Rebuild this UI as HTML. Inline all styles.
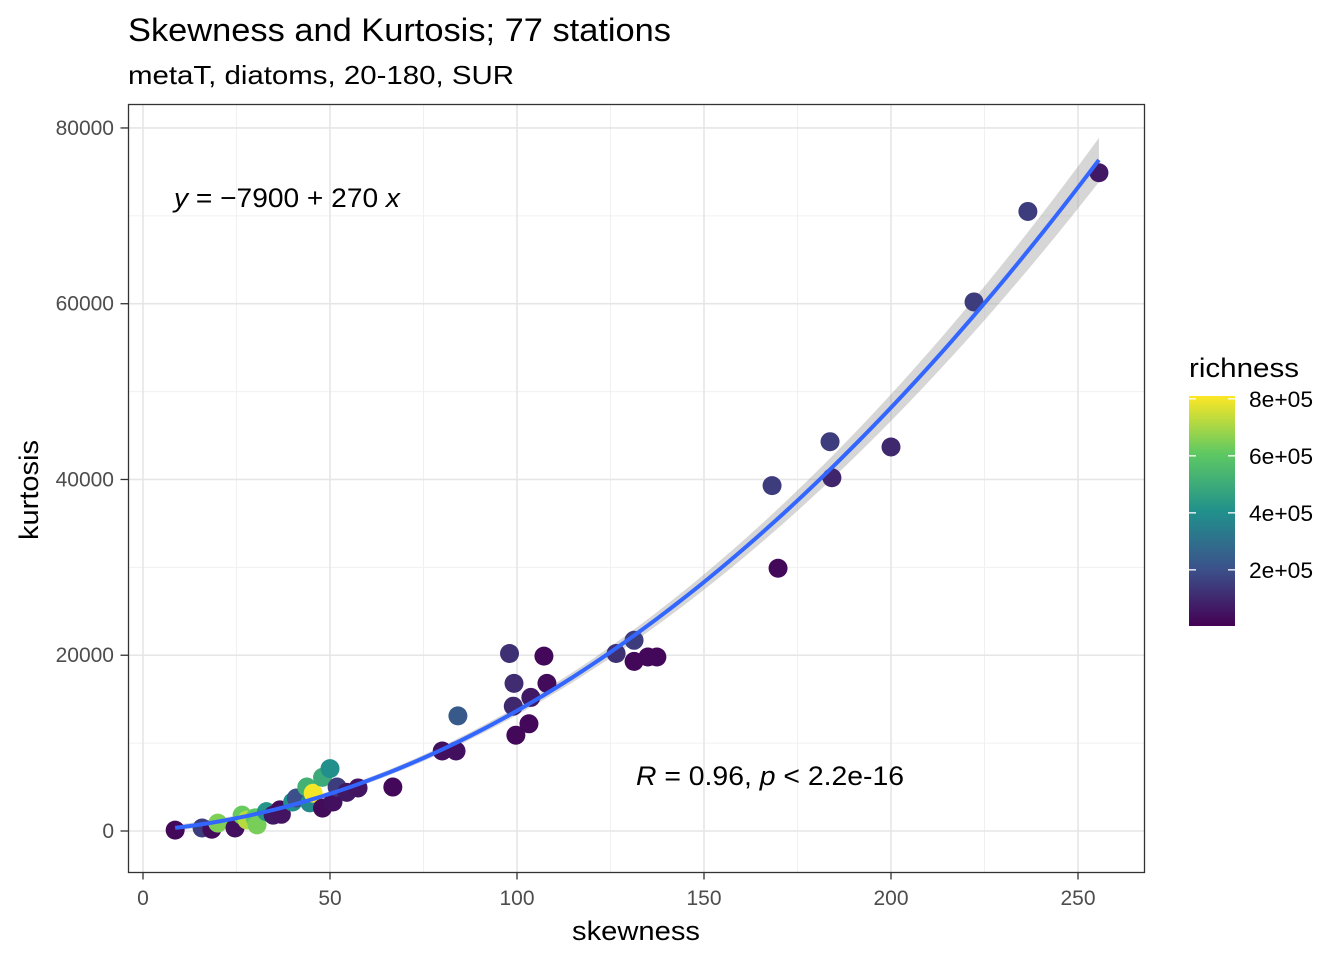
<!DOCTYPE html>
<html><head><meta charset="utf-8"><style>
body{margin:0;background:#fff;font-family:"Liberation Sans",Arial,sans-serif}
svg text{font-family:"Liberation Sans",Arial,sans-serif}
</style></head><body>
<svg id="c" width="1344" height="960" xmlns="http://www.w3.org/2000/svg">
<defs><linearGradient id="vg" x1="0" y1="1" x2="0" y2="0">
<stop offset="0" stop-color="#440154"/><stop offset="0.25" stop-color="#3b528b"/><stop offset="0.5" stop-color="#21918c"/><stop offset="0.75" stop-color="#5ec962"/><stop offset="1" stop-color="#fde725"/></linearGradient></defs>
<text x="128" y="41" font-size="32" textLength="543" lengthAdjust="spacingAndGlyphs">Skewness and Kurtosis; 77 stations</text>
<text x="128" y="84" font-size="26" textLength="386" lengthAdjust="spacingAndGlyphs">metaT, diatoms, 20-180, SUR</text>
<g id="grid"></g>
<g id="band"></g>
<g id="pts"></g>
<g id="fit"></g>
<rect x="128.5" y="104.5" width="1016" height="768" fill="none" stroke="#333" stroke-width="1.3"/>
<g id="axes"></g>
<text x="174" y="207" font-size="27" textLength="226" lengthAdjust="spacingAndGlyphs"><tspan font-style="italic">y</tspan> = −7900 + 270 <tspan font-style="italic">x</tspan></text>
<text x="636" y="785" font-size="27" textLength="268" lengthAdjust="spacingAndGlyphs"><tspan font-style="italic">R</tspan> = 0.96, <tspan font-style="italic">p</tspan> &lt; 2.2e-16</text>
<text x="572" y="940" font-size="27" textLength="128" lengthAdjust="spacingAndGlyphs">skewness</text>
<text transform="translate(38,540) rotate(-90)" font-size="27" textLength="100" lengthAdjust="spacingAndGlyphs">kurtosis</text>
<text x="1189" y="377" font-size="27" textLength="110" lengthAdjust="spacingAndGlyphs">richness</text>
<rect x="1189" y="396" width="46" height="230" fill="url(#vg)"/>
<g id="leg"></g>
</svg>
<script>
const skew=[8.6,15.8,18.4,20,24.6,26.5,27.8,30,30.5,33,34.8,36.6,37,40,41,43.8,44.6,45.5,48,48,50,50.8,51.9,54.5,57.5,66.8,80,83.7,84.2,98,99.2,99,99.7,103.2,103.7,107.2,108,126.5,131.3,131.3,135,137.4,168.2,169.8,183.7,184.2,200,222.2,236.6,255.6];
const kurt=[100,340,200,900,340,1800,1250,1500,700,2200,1800,2400,1900,3300,3750,5000,3200,4300,6100,2600,7100,3300,5000,4400,4900,5000,9100,9100,13100,20200,16800,14200,10900,12200,15200,19900,16800,20200,21700,19300,19800,19800,39300,29900,44300,40200,43700,60200,70500,74900];
const rich=[20000,150000,30000,650000,40000,620000,720000,600000,640000,420000,60000,30000,50000,400000,200000,520000,380000,800000,500000,30000,400000,40000,150000,60000,50000,20000,40000,40000,230000,120000,110000,100000,20000,20000,60000,20000,30000,120000,150000,20000,20000,20000,150000,20000,150000,90000,100000,150000,150000,60000];
const xTicks=[0,50,100,150,200,250], yTicks=[0,20000,40000,60000,80000], legTicks=[200000,400000,600000,800000];
const xs=v=>143+v*3.74, ys=v=>831-v*0.008788, ls=v=>626-(v-3000)*(230/807000);
const PL=128.5,PR=1144.5,PT=104.5,PB=872.5;
const NS="http://www.w3.org/2000/svg";
function mk(p,t,a){const e=document.createElementNS(NS,t);for(const k in a)e.setAttribute(k,a[k]);document.getElementById(p).appendChild(e);return e;}
const stops=[[68,1,84],[59,82,139],[33,145,140],[94,201,98],[253,231,37]];
function vir(v){let t=Math.max(0,Math.min(1,(v-3000)/807000))*4;let i=Math.min(3,Math.floor(t)),f=t-i;const a=stops[i],b=stops[i+1];return `rgb(${a.map((c,k)=>Math.round(c+(b[k]-c)*f)).join(',')})`;}
[25,75,125,175,225].forEach(v=>{const g=mk('grid','line',{x1:xs(v),x2:xs(v),y1:PT,y2:PB,stroke:'#f0f0f0','stroke-width':1});});
[10000,30000,50000,70000].forEach(v=>{const g=mk('grid','line',{x1:PL,x2:PR,y1:ys(v),y2:ys(v),stroke:'#f0f0f0','stroke-width':1});});
xTicks.forEach(v=>{const g=mk('grid','line',{x1:xs(v),x2:xs(v),y1:PT,y2:PB,stroke:'#e6e6e6','stroke-width':1.6});
const t=mk('axes','line',{x1:xs(v),x2:xs(v),y1:PB,y2:PB+7,stroke:'#333','stroke-width':1.3});
const l=mk('axes','text',{x:xs(v),y:905,'font-size':21,fill:'#4d4d4d','text-anchor':'middle'});l.textContent=v;});
yTicks.forEach(v=>{const g=mk('grid','line',{x1:PL,x2:PR,y1:ys(v),y2:ys(v),stroke:'#e6e6e6','stroke-width':1.6});
const t=mk('axes','line',{x1:PL-8,x2:PL,y1:ys(v),y2:ys(v),stroke:'#333','stroke-width':1.3});
const l=mk('axes','text',{x:114,y:ys(v)+7,'font-size':21,fill:'#4d4d4d','text-anchor':'end'});l.textContent=v;});
let S=[[0,0,0],[0,0,0],[0,0,0]],B=[0,0,0];
skew.forEach((x,i)=>{const r=[1,x,x*x];for(let a=0;a<3;a++){B[a]+=r[a]*kurt[i];for(let b=0;b<3;b++)S[a][b]+=r[a]*r[b];}});
function solve(A,b){A=A.map((r,i)=>[...r,b[i]]);for(let i=0;i<3;i++){for(let j=i+1;j<3;j++){const f=A[j][i]/A[i][i];for(let k=i;k<4;k++)A[j][k]-=f*A[i][k];}}const x=[0,0,0];for(let i=2;i>=0;i--){let s=A[i][3];for(let k=i+1;k<3;k++)s-=A[i][k]*x[k];x[i]=s/A[i][i];}return x;}
const c=solve(S,B);const f=x=>c[0]+c[1]*x+c[2]*x*x;
const x0=Math.min(...skew),x1=Math.max(...skew);let up=[],lo=[],ln=[];
for(let i=0;i<=100;i++){const x=x0+(x1-x0)*i/100;const w=300+Math.pow((x-40)/215,2)*2200;ln.push(xs(x)+','+ys(f(x)));up.push(xs(x)+','+ys(f(x)+w));lo.unshift(xs(x)+','+ys(f(x)-w));}
const bd=mk('band','polygon',{points:up.concat(lo).join(' '),fill:'#999',opacity:0.4});
skew.forEach((x,i)=>{const p=mk('pts','circle',{cx:xs(x),cy:ys(kurt[i]),r:9.5,fill:vir(rich[i])});});
const fl=mk('fit','polyline',{points:ln.join(' '),fill:'none',stroke:'#3366ff','stroke-width':4});
legTicks.forEach(v=>{const y=ls(v);[[1189,1196],[1228,1235]].forEach(([a,b])=>{const t=mk('leg','line',{x1:a,x2:b,y1:y,y2:y,stroke:'#fff','stroke-width':1.3});});
const l=mk('leg','text',{x:1249,y:y+8,'font-size':22,textLength:64,lengthAdjust:'spacingAndGlyphs'});l.textContent=(v/100000)+'e+05';});
</script>
</body></html>
